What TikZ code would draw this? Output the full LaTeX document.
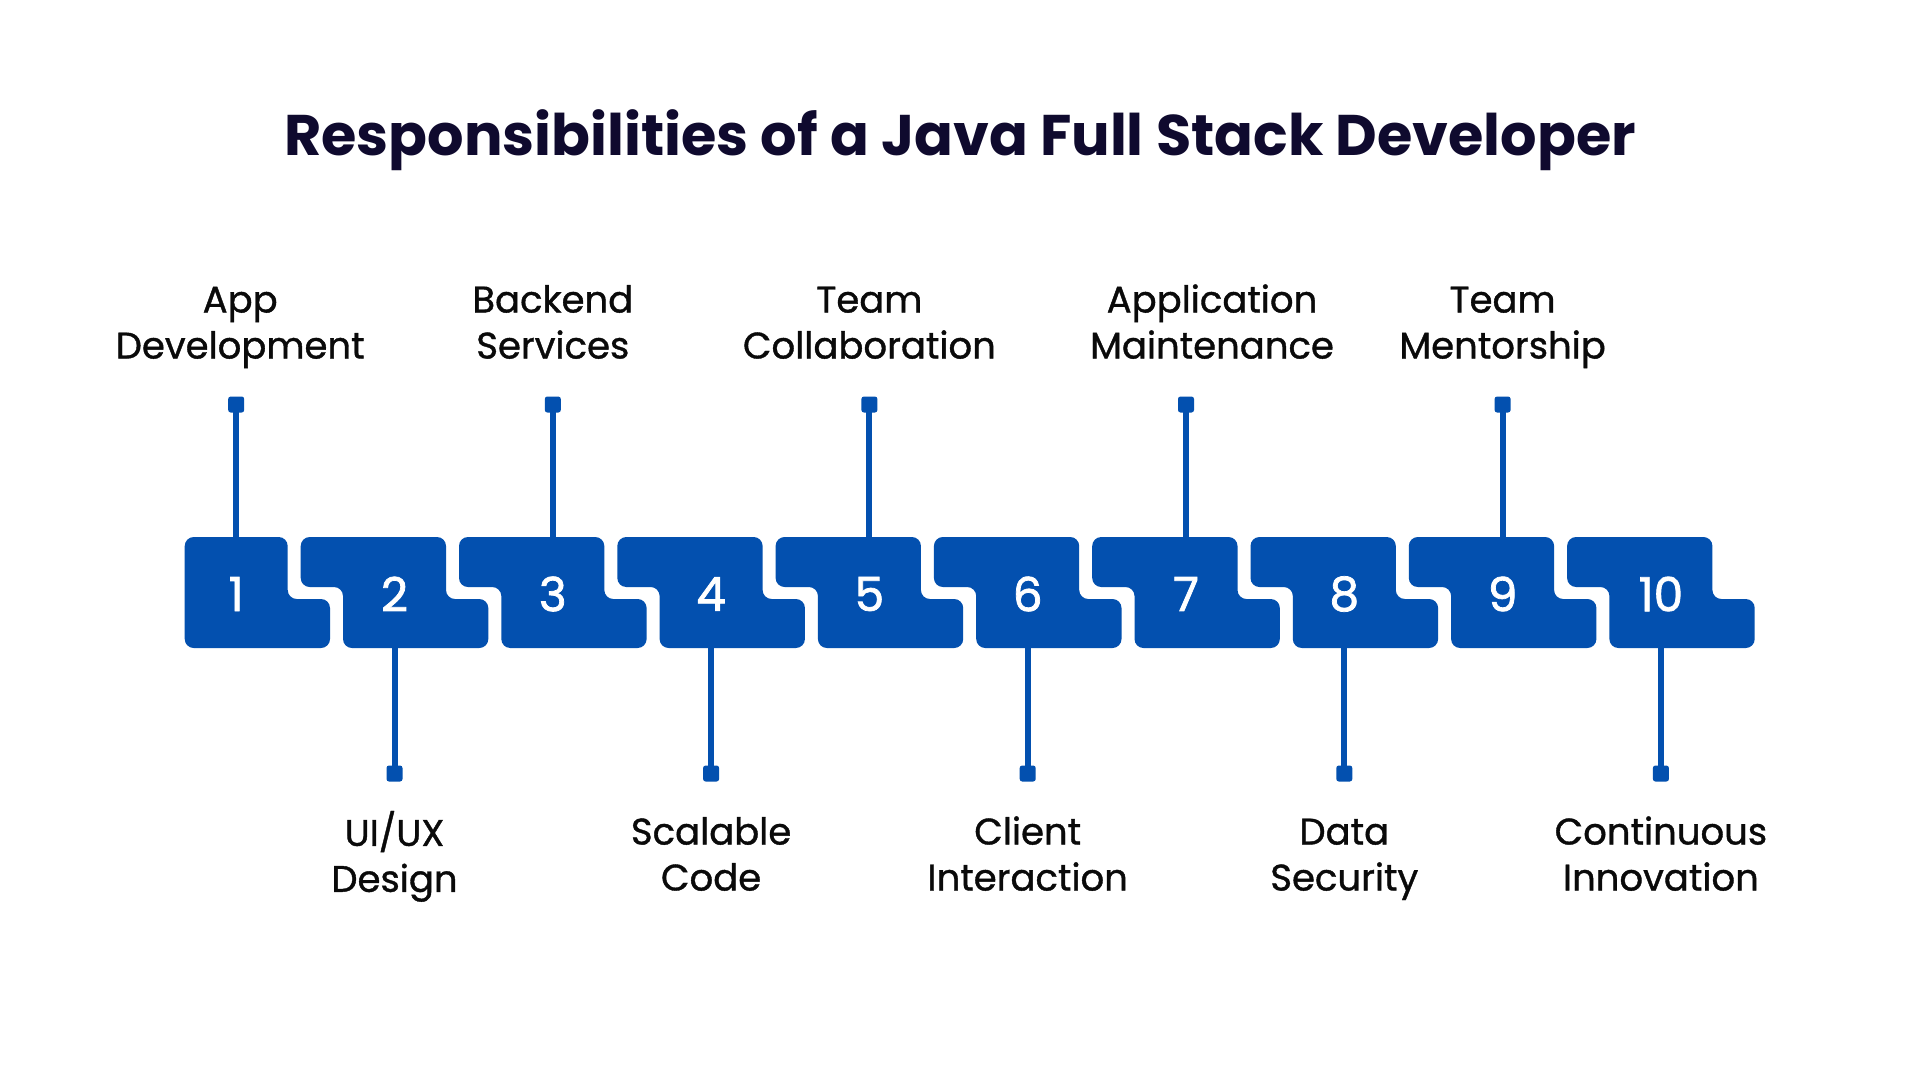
\documentclass[tikz,border=0pt]{standalone}
\usepackage{fontspec}
\setmainfont{Poppins}
\newfontfamily\labfont{Poppins}[FakeBold=1.0]
\newfontfamily\numfont{Poppins}[FakeBold=1.6]
\usetikzlibrary{calc}
\definecolor{blk}{HTML}{0350AF}
\definecolor{ttl}{HTML}{0F0A2E}
\definecolor{lbl}{HTML}{0A0A0A}
\begin{document}
\begin{tikzpicture}[x=1pt,y=-1pt,
  blockshape/.style={fill=blk,rounded corners=9pt},
  numtext/.style={text=white,font=\numfont\fontsize{47}{47}\selectfont,inner sep=0pt},
  sq/.style={fill=blk,draw=none,minimum width=16pt,minimum height=16pt,inner sep=0pt,rounded corners=2.5pt},
  conn/.style={draw=blk,line width=6pt},
  lab/.style={text=lbl,align=center,inner sep=0pt,font=\labfont\fontsize{37}{46}\selectfont},
  titletext/.style={text=ttl,font=\fontsize{57.3}{58}\selectfont\bfseries,inner sep=0pt,anchor=base}
]
\useasboundingbox[fill=white] (0,0) rectangle (1920,1080);
\node[titletext] (title) at (960,155.5) {Responsibilities of a Java Full Stack Developer};
% blocks
\foreach \k in {1,...,10}{
  \pgfmathsetmacro{\xl}{142.4+(\k-1)*158.3}
  \ifnum\k=1
    \fill[blockshape] (\xl+42.3,537) -- (\xl+145.3,537) -- (\xl+145.3,599) -- (\xl+187.6,599) -- (\xl+187.6,648) -- (\xl+42.3,648) -- cycle;
  \else
    \fill[blockshape] (\xl,537) -- (\xl+145.3,537) -- (\xl+145.3,599) -- (\xl+187.6,599) -- (\xl+187.6,648) -- (\xl+42.3,648) -- (\xl+42.3,587) -- (\xl,587) -- cycle;
  \fi
  \node[numtext] (n\k) at (\xl+93.8,594) {\k};
  \coordinate (t\k) at (\xl+93.8,537);
  \coordinate (b\k) at (\xl+93.8,648);
}
% top connectors (odd)
\foreach \k in {1,3,5,7,9}{
  \node[sq] (s\k) at ($(t\k)+(0,-132.5)$) {};
  \draw[conn] (s\k.center) -- (t\k);
}
% bottom connectors (even)
\foreach \k in {2,4,6,8,10}{
  \node[sq] (s\k) at ($(b\k)+(0,125.5)$) {};
  \draw[conn] (b\k) -- (s\k.center);
}
% labels
\node[lab] (l1) at ($(t1)+(4,-210.7)$) {\strut App\\\strut Development};
\node[lab] (l3) at ($(t3)+(0,-210.7)$) {\strut Backend\\\strut Services};
\node[lab] (l5) at ($(t5)+(0,-210.7)$) {\strut Team\\\strut Collaboration};
\node[lab] (l7) at ($(t7)+(26,-210.7)$) {\strut Application\\\strut Maintenance};
\node[lab] (l9) at ($(t9)+(0,-210.7)$) {\strut Team\\\strut Mentorship};
\node[lab] (l2) at ($(b2)+(0,210.3)$) {\strut UI/UX\\\strut Design};
\node[lab] (l4) at ($(b4)+(0,210.3)$) {\strut Scalable\\\strut Code};
\node[lab] (l6) at ($(b6)+(0,210.3)$) {\strut Client\\\strut Interaction};
\node[lab] (l8) at ($(b8)+(0,210.3)$) {\strut Data\\\strut Security};
\node[lab] (l10) at ($(b10)+(0,210.3)$) {\strut Continuous\\\strut Innovation};
\end{tikzpicture}
\end{document}
